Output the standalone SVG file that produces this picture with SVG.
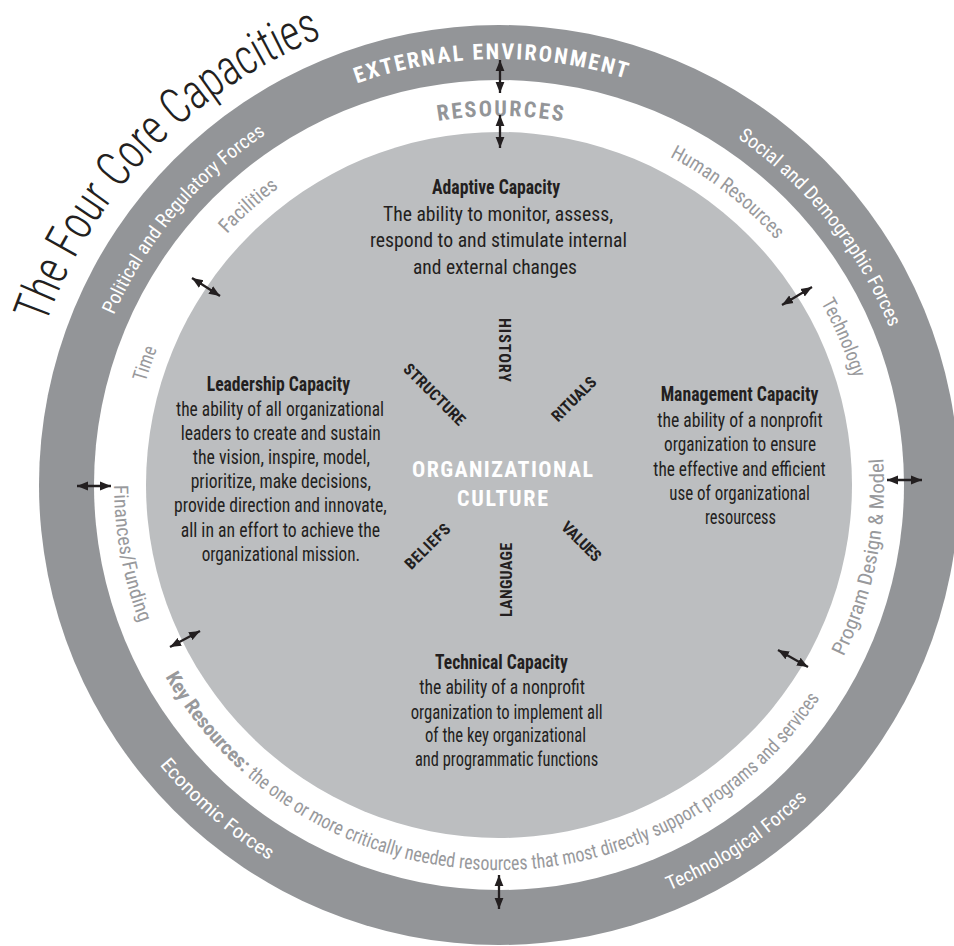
<svg xmlns="http://www.w3.org/2000/svg" width="954" height="946" viewBox="0 0 954 946">
  <style>
    text { font-family: "Liberation Sans Narrow", "Roboto Condensed", "DejaVu Sans Condensed", "Liberation Sans", sans-serif; }
    .ink { fill: #231f20; }
    .ttl { font-size: 21px; font-weight: bold; fill: #231f20; }
    .body { font-size: 21px; fill: #231f20; }
    .outer { font-size: 19.5px; fill: #ffffff; }
    .inner { font-size: 20px; fill: #98999c; }
    .spoke { font-size: 16px; font-weight: bold; fill: #231f20; }
    .arrow { stroke: #231f20; stroke-width: 2.3; fill: none; marker-start: url(#head); marker-end: url(#head); }
  </style>
  <defs>
    <marker id="head" markerUnits="userSpaceOnUse" markerWidth="12" markerHeight="10" refX="11" refY="5" orient="auto-start-reverse">
      <path d="M0,0.6 L11,5 L0,9.4 z" fill="#231f20"/>
    </marker>
    <!-- baselines for the curved labels, centre (499,485) -->
    <path id="pTitle" d="M45.6,324.4 A481,481 0 0 1 322.7,37.5"/>
    <path id="pExt" d="M356.8,83.5 A426,426 0 0 1 625.7,78.3"/>
    <path id="pRes" d="M438.1,121.1 A369,369 0 0 1 562.4,121.5"/>
    <path id="pPol" d="M113.8,315.1 A421,421 0 0 1 266.0,134.3"/>
    <path id="pSoc" d="M737.5,138.1 A421,421 0 0 1 889.3,327.3"/>
    <path id="pEco" d="M159.5,764.9 A440,440 0 0 0 269.1,860.1"/>
    <path id="pTec" d="M669.5,890.6 A440,440 0 0 0 807.4,798.8"/>
    <path id="pFac" d="M227.1,234.1 A370,370 0 0 1 278.9,187.6"/>
    <path id="pHum" d="M669.8,156.8 A370,370 0 0 1 776.1,239.8"/>
    <path id="pTechn" d="M821.0,302.8 A370,370 0 0 1 853.2,378.1"/>
    <path id="pProg" d="M843.5,656.8 A385,385 0 0 0 883.1,458.1"/>
    <path id="pTime" d="M145.6,382.3 A368,368 0 0 1 157.1,348.9"/>
    <path id="pFin" d="M114,485 A385,385 0 0 0 139.6,623.0"/>
    <path id="pKey" d="M165.2,676.9 A385,385 0 0 0 819.7,698.1"/>
  </defs>

  <rect width="954" height="946" fill="#ffffff"/>

  <!-- concentric rings -->
  <g id="rings">
    <circle cx="499" cy="485" r="460" fill="#939598"/>
    <circle cx="499" cy="485" r="405" fill="#ffffff"/>
    <circle cx="499" cy="485" r="353" fill="#bcbec0"/>
  </g>

  <!-- heading -->
  <g id="title">
    <text font-size="50" font-weight="300" class="ink"><textPath href="#pTitle" textLength="411" lengthAdjust="spacingAndGlyphs">The Four Core Capacities</textPath></text>
  </g>

  <!-- outer ring: external environment -->
  <g id="external-environment">
    <text font-size="22" font-weight="bold" fill="#ffffff"><textPath href="#pExt" textLength="273.6" lengthAdjust="spacing">EXTERNAL ENVIRONMENT</textPath></text>
    <text class="outer"><textPath href="#pPol" textLength="239.5" lengthAdjust="spacingAndGlyphs">Political and Regulatory Forces</textPath></text>
    <text class="outer"><textPath href="#pSoc" textLength="246.2" lengthAdjust="spacingAndGlyphs">Social and Demographic Forces</textPath></text>
    <text class="outer"><textPath href="#pEco" textLength="145.9" lengthAdjust="spacingAndGlyphs">Economic Forces</textPath></text>
    <text class="outer"><textPath href="#pTec" textLength="166.6" lengthAdjust="spacingAndGlyphs">Technological Forces</textPath></text>
  </g>

  <!-- middle ring: resources -->
  <g id="resources">
    <text font-size="22" font-weight="bold" fill="#939598"><textPath href="#pRes" textLength="124.9" lengthAdjust="spacing">RESOURCES</textPath></text>
    <text class="inner"><textPath href="#pFac" textLength="69.7" lengthAdjust="spacingAndGlyphs">Facilities</textPath></text>
    <text class="inner"><textPath href="#pHum" textLength="135.6" lengthAdjust="spacingAndGlyphs">Human Resources</textPath></text>
    <text class="inner"><textPath href="#pTechn" textLength="82" lengthAdjust="spacingAndGlyphs">Technology</textPath></text>
    <text class="inner" font-size="21"><textPath href="#pProg" textLength="204.9" lengthAdjust="spacingAndGlyphs">Program Design &amp; Model</textPath></text>
    <text class="inner" font-size="21"><textPath href="#pTime" textLength="35.3" lengthAdjust="spacingAndGlyphs">Time</textPath></text>
    <text class="inner" font-size="21"><textPath href="#pFin" textLength="141.1" lengthAdjust="spacingAndGlyphs">Finances/Funding</textPath></text>
    <text class="inner" font-weight="bold"><textPath href="#pKey" textLength="124" lengthAdjust="spacingAndGlyphs">Key Resources:</textPath></text>
    <text class="inner" font-size="18"><textPath href="#pKey" startOffset="129" textLength="653.8" lengthAdjust="spacingAndGlyphs">the one or more critically needed resources that most directly support programs and services</textPath></text>
  </g>

  <!-- capacity nodes -->
  <g id="adaptive-capacity">
    <text class="ttl" x="432" y="194" textLength="128" lengthAdjust="spacingAndGlyphs">Adaptive Capacity</text>
    <text class="body" x="383" y="220.5" textLength="230" lengthAdjust="spacingAndGlyphs">The ability to monitor, assess,</text>
    <text class="body" x="370" y="247" textLength="257" lengthAdjust="spacingAndGlyphs">respond to and stimulate internal</text>
    <text class="body" x="413" y="274" textLength="164" lengthAdjust="spacingAndGlyphs">and external changes</text>
  </g>

  <g id="leadership-capacity">
    <text class="ttl" x="206.7" y="391" textLength="143.3" lengthAdjust="spacingAndGlyphs">Leadership Capacity</text>
    <text class="body" x="176" y="416" textLength="208" lengthAdjust="spacingAndGlyphs">the ability of all organizational</text>
    <text class="body" x="180.7" y="440" textLength="200" lengthAdjust="spacingAndGlyphs">leaders to create and sustain</text>
    <text class="body" x="192.7" y="464" textLength="177.3" lengthAdjust="spacingAndGlyphs">the vision, inspire, model,</text>
    <text class="body" x="190.7" y="488" textLength="180.3" lengthAdjust="spacingAndGlyphs">prioritize, make decisions,</text>
    <text class="body" x="174" y="512" textLength="212.7" lengthAdjust="spacingAndGlyphs">provide direction and innovate,</text>
    <text class="body" x="180.7" y="537" textLength="199.3" lengthAdjust="spacingAndGlyphs">all in an effort to achieve the</text>
    <text class="body" x="201.7" y="561" textLength="158.3" lengthAdjust="spacingAndGlyphs">organizational mission.</text>
  </g>

  <g id="management-capacity">
    <text class="ttl" x="660.7" y="401" textLength="157.6" lengthAdjust="spacingAndGlyphs">Management Capacity</text>
    <text class="body" x="657.3" y="427" textLength="165.4" lengthAdjust="spacingAndGlyphs">the ability of a nonprofit</text>
    <text class="body" x="664" y="451" textLength="152" lengthAdjust="spacingAndGlyphs">organization to ensure</text>
    <text class="body" x="653.3" y="476" textLength="172.4" lengthAdjust="spacingAndGlyphs">the effective and efficient</text>
    <text class="body" x="669.3" y="500" textLength="140.7" lengthAdjust="spacingAndGlyphs">use of organizational</text>
    <text class="body" x="705" y="524" textLength="71" lengthAdjust="spacingAndGlyphs">resourcess</text>
  </g>

  <g id="technical-capacity">
    <text class="ttl" x="435" y="669" textLength="132.7" lengthAdjust="spacingAndGlyphs">Technical Capacity</text>
    <text class="body" x="419.3" y="694" textLength="165.7" lengthAdjust="spacingAndGlyphs">the ability of a nonprofit</text>
    <text class="body" x="410.7" y="718.5" textLength="192" lengthAdjust="spacingAndGlyphs">organization to implement all</text>
    <text class="body" x="425" y="742" textLength="161" lengthAdjust="spacingAndGlyphs">of the key organizational</text>
    <text class="body" x="415" y="765.5" textLength="183.3" lengthAdjust="spacingAndGlyphs">and programmatic functions</text>
  </g>

  <!-- organizational culture hub and its spokes -->
  <g id="organizational-culture">
    <text x="412" y="476.5" font-size="22" font-weight="bold" fill="#ffffff" textLength="181" lengthAdjust="spacing">ORGANIZATIONAL</text>
    <text x="457" y="505.5" font-size="22" font-weight="bold" fill="#ffffff" textLength="91" lengthAdjust="spacing">CULTURE</text>
  </g>

  <g id="culture-spokes">
    <text class="spoke" transform="translate(499,318) rotate(90)" x="0" y="0" textLength="64" lengthAdjust="spacing">HISTORY</text>
    <text class="spoke" transform="translate(511.5,617) rotate(-90)" x="0" y="0" textLength="74" lengthAdjust="spacing">LANGUAGE</text>
    <text class="spoke" transform="translate(434.5,394.5) rotate(45)" x="-40" y="5.5" textLength="80" lengthAdjust="spacing">STRUCTURE</text>
    <text class="spoke" transform="translate(574,399) rotate(-45)" x="-28" y="5.5" textLength="56" lengthAdjust="spacing">RITUALS</text>
    <text class="spoke" transform="translate(427.5,546.5) rotate(-45)" x="-28.5" y="5.5" textLength="57" lengthAdjust="spacing">BELIEFS</text>
    <text class="spoke" transform="translate(581.5,541.5) rotate(45)" x="-24.5" y="5.5" textLength="49" lengthAdjust="spacing">VALUES</text>
  </g>

  <!-- two-way exchange arrows across the ring boundaries -->
  <g id="connectors">
    <line class="arrow" x1="500" y1="60" x2="500" y2="93"/>
    <line class="arrow" x1="500" y1="115" x2="500" y2="148"/>
    <line class="arrow" x1="499" y1="875" x2="499" y2="909"/>
    <line class="arrow" x1="77" y1="486" x2="111" y2="486"/>
    <line class="arrow" x1="887" y1="480" x2="922" y2="480"/>
    <line class="arrow" x1="192" y1="278" x2="220" y2="296"/>
    <line class="arrow" x1="782" y1="305" x2="812" y2="287"/>
    <line class="arrow" x1="170" y1="647" x2="200" y2="631"/>
    <line class="arrow" x1="778" y1="650" x2="808" y2="667"/>
  </g>
</svg>
